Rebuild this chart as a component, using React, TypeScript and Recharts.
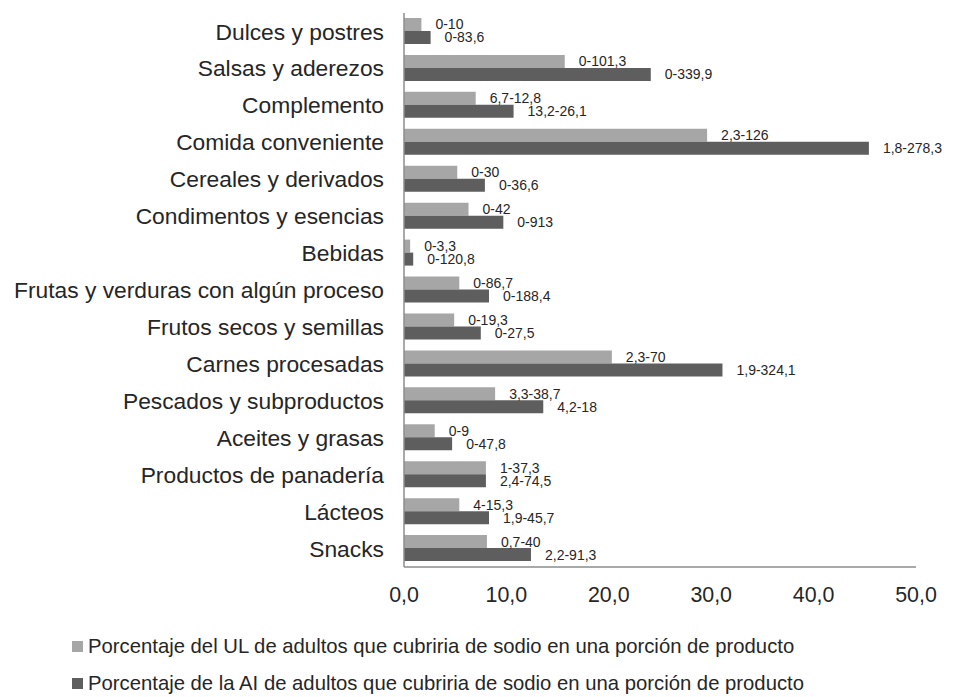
import React from "react";
import {
  BarChart,
  Bar,
  XAxis,
  YAxis,
  Legend,
  LabelList,
} from "recharts";

const categories = [
  "Dulces y postres",
  "Salsas y aderezos",
  "Complemento",
  "Comida conveniente",
  "Cereales y derivados",
  "Condimentos y esencias",
  "Bebidas",
  "Frutas y verduras con algún proceso",
  "Frutos secos y semillas",
  "Carnes procesadas",
  "Pescados y subproductos",
  "Aceites y grasas",
  "Productos de panadería",
  "Lácteos",
  "Snacks",
];

const ulValues = [1.7, 15.7, 7.0, 29.6, 5.2, 6.3, 0.6, 5.4, 4.9, 20.3, 8.9, 3.0, 8.0, 5.4, 8.1];
const aiValues = [2.6, 24.1, 10.7, 45.4, 7.9, 9.7, 0.9, 8.3, 7.5, 31.1, 13.6, 4.7, 8.0, 8.3, 12.4];

const ulRanges = [
  "0-10", "0-101,3", "6,7-12,8", "2,3-126", "0-30", "0-42", "0-3,3", "0-86,7",
  "0-19,3", "2,3-70", "3,3-38,7", "0-9", "1-37,3", "4-15,3", "0,7-40",
];
const aiRanges = [
  "0-83,6", "0-339,9", "13,2-26,1", "1,8-278,3", "0-36,6", "0-913", "0-120,8", "0-188,4",
  "0-27,5", "1,9-324,1", "4,2-18", "0-47,8", "2,4-74,5", "1,9-45,7", "2,2-91,3",
];

const xTicks = [0, 10, 20, 30, 40, 50];

const ulName = "Porcentaje del UL de adultos que cubriria de sodio en una porción de producto";
const aiName = "Porcentaje de la AI de adultos que cubriria de sodio en una porción de producto";
const legendOrder = ["ul", "ai"];

const data = categories.map((name, i) => ({
  name,
  ul: ulValues[i],
  ai: aiValues[i],
  ulRange: ulRanges[i],
  aiRange: aiRanges[i],
}));

const FONT = "'Liberation Sans', Arial, sans-serif";
const TEXT = "#262626";

function LegendBox({ payload }: any) {
  const items = [...(payload || [])].sort(
    (a: any, b: any) => legendOrder.indexOf(a.dataKey) - legendOrder.indexOf(b.dataKey)
  );
  return (
    <div style={{ fontFamily: FONT, fontSize: 20.3, color: TEXT }}>
      {items.map((p: any) => (
        <div
          key={p.value}
          style={{ display: "flex", alignItems: "center", height: 37, whiteSpace: "nowrap" }}
        >
          <span
            style={{
              display: "inline-block",
              width: 11,
              height: 11,
              background: p.color,
              marginRight: 5,
            }}
          />
          {p.value}
        </div>
      ))}
    </div>
  );
}

export default function App() {
  return (
    <div style={{ position: "absolute", left: 0, top: 0, background: "#fff" }}>
      <BarChart
        width={958}
        height={697}
        data={data}
        layout="vertical"
        margin={{ top: 13, right: 42, left: 0, bottom: 90 }}
        barGap={0}
        barSize={13}
      >
        <XAxis
          type="number"
          domain={[0, 50]}
          ticks={xTicks}
          tickFormatter={(v: number) => v.toFixed(1).replace(".", ",")}
          tickLine={false}
          tickSize={0}
          tickMargin={20}
          axisLine={{ stroke: "#8c8c8c", strokeWidth: 1.5 }}
          tick={{ fill: TEXT, fontSize: 21.4, fontFamily: FONT }}
          height={40}
        />
        <YAxis
          type="category"
          dataKey="name"
          width={404}
          tickLine={false}
          tickSize={0}
          tickMargin={20}
          axisLine={{ stroke: "#8c8c8c", strokeWidth: 1.5 }}
          tick={{ fill: TEXT, fontSize: 22.8, fontFamily: FONT }}
          interval={0}
        />
        <Legend
          layout="horizontal"
          verticalAlign="middle"
          align="center"
          content={<LegendBox />}
          wrapperStyle={{ left: 72, top: 628, bottom: "auto", width: 880 }}
        />
        <Bar dataKey="ul" name={ulName} fill="#a6a6a6" isAnimationActive={false}>
          <LabelList
            dataKey="ulRange"
            position="right"
            offset={14}
            style={{ fill: TEXT, fontSize: 14, fontFamily: FONT }}
          />
        </Bar>
        <Bar dataKey="ai" name={aiName} fill="#5e5e5e" isAnimationActive={false}>
          <LabelList
            dataKey="aiRange"
            position="right"
            offset={14}
            style={{ fill: TEXT, fontSize: 14, fontFamily: FONT }}
          />
        </Bar>
      </BarChart>
    </div>
  );
}
